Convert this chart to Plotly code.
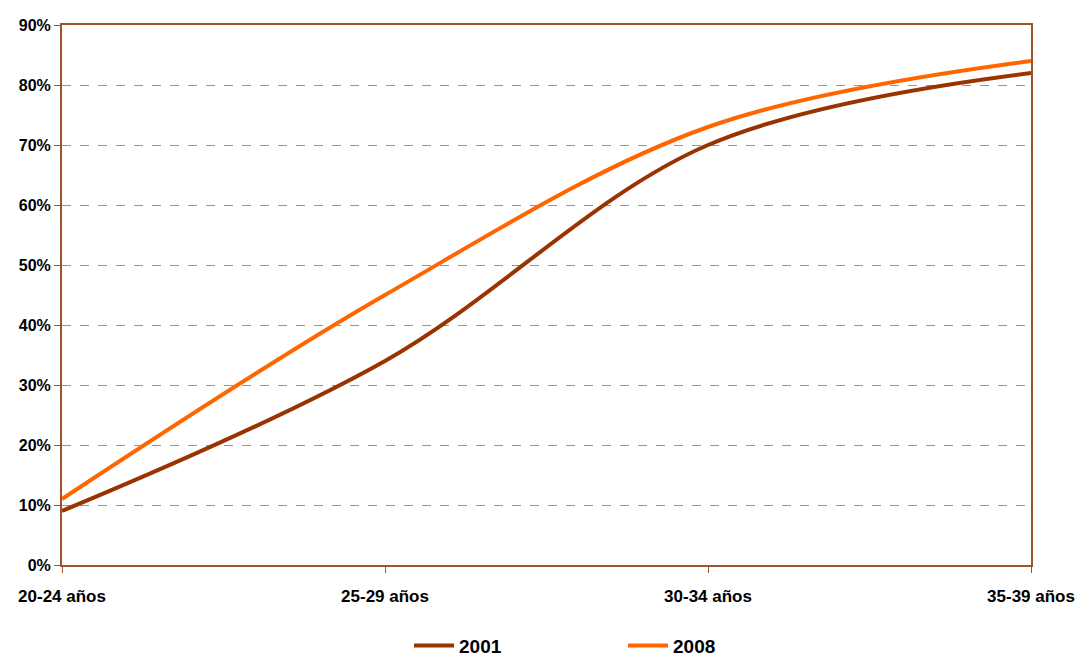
import plotly.graph_objects as go

categories = ["20-24 años", "25-29 años", "30-34 años", "35-39 años"]
y2001 = [0.09, 0.34, 0.70, 0.82]
y2008 = [0.11, 0.45, 0.73, 0.84]
y_ticks = [0, 0.1, 0.2, 0.3, 0.4, 0.5, 0.6, 0.7, 0.8, 0.9]
y_ticklabels = ["0%", "10%", "20%", "30%", "40%", "50%", "60%", "70%", "80%", "90%"]

xpos = list(range(len(categories)))
font = "Liberation Sans, Arial, sans-serif"
axis_col = "#A0522D"
grid_col = "#C0876A"

fig = go.Figure()
fig.add_trace(go.Scatter(x=xpos, y=y2001, name="2001", mode="lines",
                         line=dict(color="#993300", width=4, shape="spline", smoothing=1.0)))
fig.add_trace(go.Scatter(x=xpos, y=y2008, name="2008", mode="lines",
                         line=dict(color="#FF6600", width=4, shape="spline", smoothing=1.0)))

fig.update_layout(
    width=1077, height=656,
    margin=dict(l=62, r=46, t=25, b=91, autoexpand=False),
    paper_bgcolor="white", plot_bgcolor="white",
    font=dict(family=font, color="black"),
    showlegend=True,
    legend=dict(orientation="h", x=(409 - 62) / 969, xanchor="left", y=-0.114, yanchor="top",
                font=dict(size=19, family=font, color="black", weight="bold"),
                entrywidth=159, entrywidthmode="pixels", itemwidth=40),
)
fig.update_xaxes(range=[0, 3], tickvals=xpos, ticktext=categories, automargin=False,
                 showgrid=False, zeroline=False,
                 showline=True, linecolor=axis_col, linewidth=2, mirror=True,
                 ticks="outside", ticklen=6, tickcolor=axis_col,
                 tickfont=dict(size=17, family=font, color="black", weight="bold"),
                 ticklabelstandoff=9)
fig.update_yaxes(range=[0, 0.9], tickvals=y_ticks, ticktext=y_ticklabels, automargin=False,
                 showgrid=True, gridcolor=grid_col, griddash="dash", gridwidth=1,
                 zeroline=False,
                 showline=True, linecolor=axis_col, linewidth=2, mirror=True,
                 ticks="outside", ticklen=6, tickcolor=axis_col,
                 tickfont=dict(size=16, family=font, color="black", weight="bold"))

fig.write_html("out.html")
